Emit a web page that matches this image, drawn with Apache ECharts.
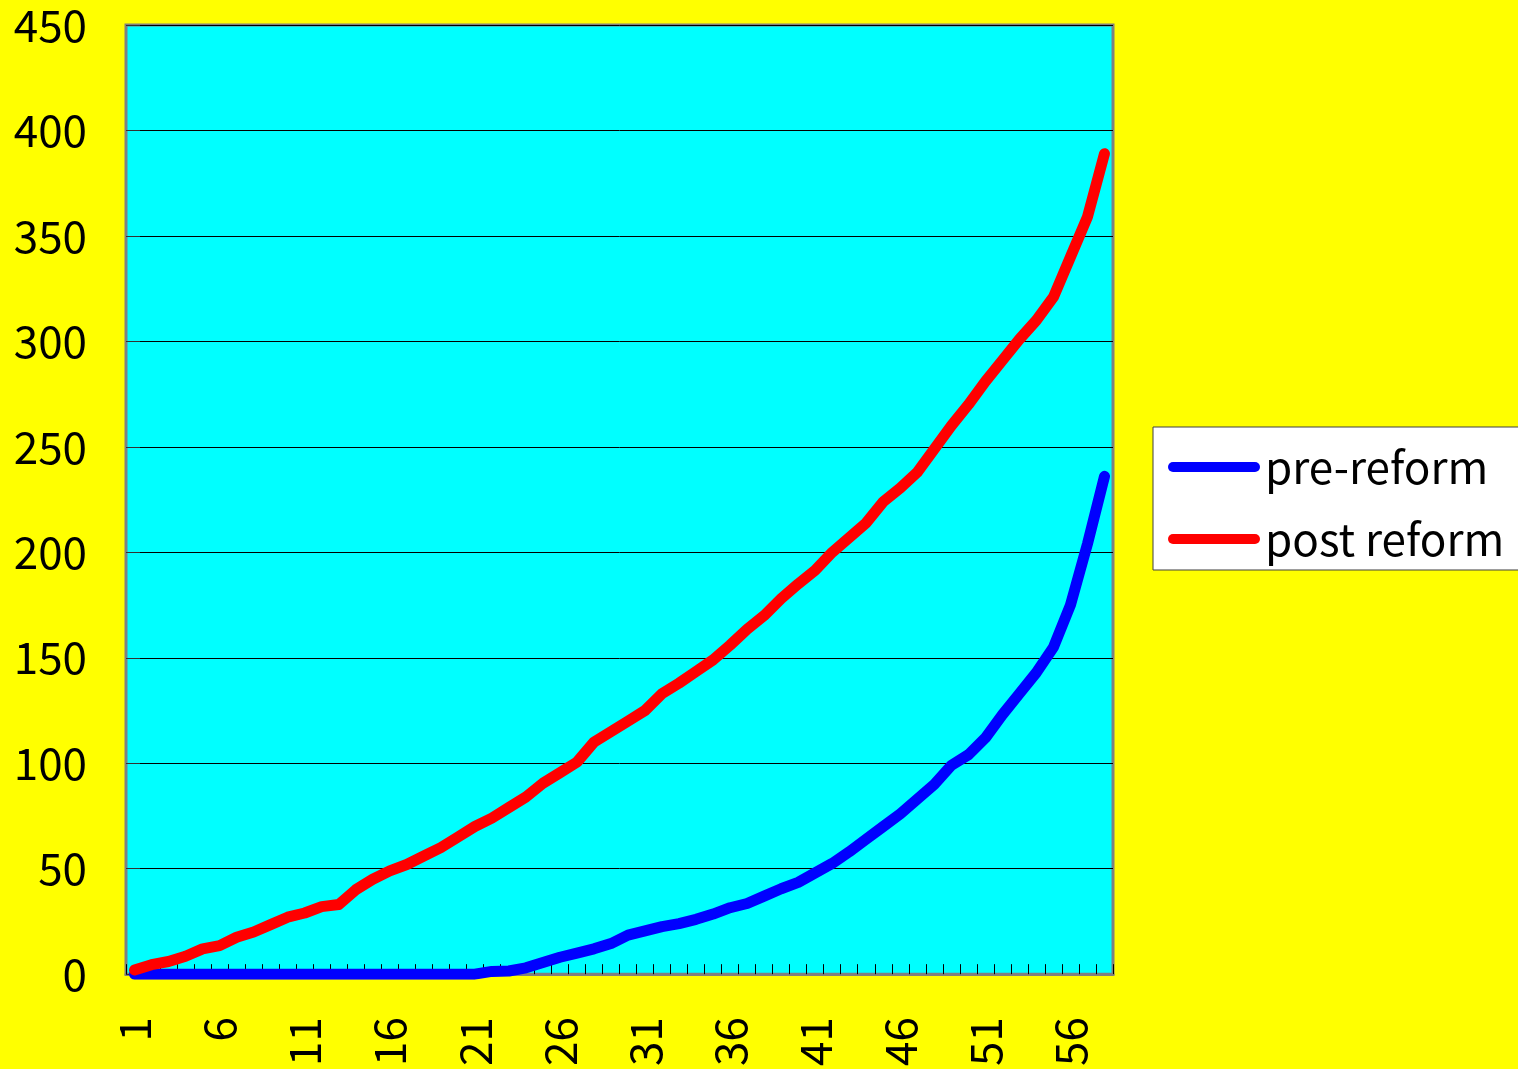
<!DOCTYPE html>
<html>
<head>
<meta charset="utf-8">
<script src="https://cdn.jsdelivr.net/npm/echarts@6/dist/echarts.min.js"></script>
<style>
  html, body { margin: 0; padding: 0; background: #ffff00; }
  #chart { width: 1518px; height: 1069px; }
</style>
</head>
<body>
<div id="chart"></div>
<script>
// x categories (1..58)
var categories = ['1','2','3','4','5','6','7','8','9','10','11','12','13','14','15','16','17','18','19','20',
  '21','22','23','24','25','26','27','28','29','30','31','32','33','34','35','36','37','38','39','40',
  '41','42','43','44','45','46','47','48','49','50','51','52','53','54','55','56','57','58'];

var seriesNames = ['pre-reform', 'post reform'];

var preReform = [0,0,0,0,0,0,0,0,0,0,0,0,0,0,0,0,0,0,0,0,
  0,1.3,1.5,3,5.5,8,10,12,14.5,18.5,20.5,22.5,24,26,28.5,31.5,33.5,37,40.5,43.5,
  48,52.5,58,64,70,76,83,90,99,104,112,123,133,143,155,175,204,236];

var postReform = [2,4.5,6,8.5,12,13.5,17.5,20,23.5,27,29,32,33,40,45,49,52,56,60,65,
  70,74,79,84,90.5,95.5,100.5,110,115,120,125,133,138,143.5,149,156,163.5,170,178,185,
  191.5,200,207,214,224,230.5,238,249,260,270,281,291,301,310,321,340,359,389];

// y ticks
var yMin = 0, yMax = 450, yStep = 50;

var chart = echarts.init(document.getElementById('chart'));
var font = "'Noto Sans CJK JP', 'Liberation Sans', sans-serif";
var legendIcon = 'path://M5,0 H87 A5,5 0 0 1 87,10 H5 A5,5 0 0 1 5,0 Z';

var option = {
  backgroundColor: '#ffff00',
  animation: false,
  grid: {
    left: 126,
    top: 25,
    right: 405,
    bottom: 94,
    show: true,
    backgroundColor: '#00ffff',
    borderColor: '#808080',
    borderWidth: 3
  },
  legend: {
    orient: 'vertical',
    left: 1153,
    top: 427,
    padding: [18, 20, 9, 15],
    itemGap: 28,
    itemWidth: 92,
    itemHeight: 10,
    backgroundColor: '#ffffff',
    borderColor: '#404040',
    borderWidth: 1,
    borderRadius: 0,
    textStyle: { fontSize: 44, color: '#000', fontFamily: font },
    data: [
      { name: seriesNames[0], icon: legendIcon, itemStyle: { color: '#0000ff' } },
      { name: seriesNames[1], icon: legendIcon, itemStyle: { color: '#ff0000' } }
    ]
  },
  xAxis: {
    type: 'category',
    data: categories,
    boundaryGap: true,
    axisLine: { show: true, lineStyle: { color: '#808080', width: 3 } },
    axisTick: { show: true, inside: true, length: 10, interval: 0, lineStyle: { color: '#000', width: 1 } },
    axisLabel: {
      interval: 4,
      rotate: 90,
      margin: 43,
      fontSize: 44,
      color: '#000',
      fontFamily: font
    },
    splitLine: { show: false }
  },
  yAxis: {
    type: 'value',
    min: yMin,
    max: yMax,
    interval: yStep,
    axisLine: { show: false },
    axisTick: { show: true, inside: true, length: 14, lineStyle: { color: '#333', width: 1 } },
    axisLabel: { margin: 39, fontSize: 44, color: '#000', fontFamily: font },
    splitLine: { show: true, lineStyle: { color: '#000', width: 1 } }
  },
  series: [
    {
      name: seriesNames[0],
      type: 'line',
      data: preReform,
      showSymbol: false,
      color: '#0000ff',
      lineStyle: { color: '#0000ff', width: 11, cap: 'round', join: 'round' }
    },
    {
      name: seriesNames[1],
      type: 'line',
      data: postReform,
      showSymbol: false,
      color: '#ff0000',
      lineStyle: { color: '#ff0000', width: 11, cap: 'round', join: 'round' }
    }
  ]
};

chart.setOption(option);
</script>
</body>
</html>
